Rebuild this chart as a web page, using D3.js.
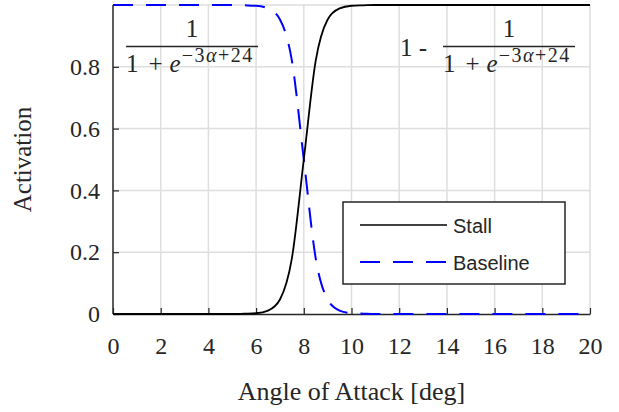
<!DOCTYPE html>
<html>
<head>
<meta charset="utf-8">
<script src="https://cdn.jsdelivr.net/npm/d3@7"></script>
<style>
  body { margin: 0; background: #fff; }
  svg { display: block; }
  text { fill: #262626; }
</style>
</head>
<body>
<svg width="619" height="412"></svg>
<script>
// values
const alpha = [0, 2, 4, 5, 5.5, 6, 6.5, 7, 7.5, 8, 8.5, 9, 9.5, 10, 10.5, 11, 12, 14, 16, 18, 20];
const stall = [0, 0, 0, 0, 0.0011, 0.0025, 0.011, 0.047, 0.18, 0.5, 0.82, 0.953, 0.989, 0.9975, 0.9989, 1, 1, 1, 1, 1, 1];
const baseline = [1, 1, 1, 1, 0.9989, 0.9975, 0.989, 0.953, 0.82, 0.5, 0.18, 0.047, 0.011, 0.0025, 0.0011, 0, 0, 0, 0, 0, 0];
const xTicks = [0, 2, 4, 6, 8, 10, 12, 14, 16, 18, 20];
const yTicks = [0, 0.2, 0.4, 0.6, 0.8];
const yGrid = [0.2, 0.4, 0.6, 0.8, 1];
const seriesNames = ["Stall", "Baseline"];

const svg = d3.select("svg");
const serif = "'Liberation Serif', 'DejaVu Serif', serif";
const sans = "'Liberation Sans', Arial, sans-serif";

const x = d3.scaleLinear().domain([0, 20]).range([113, 590]);
const y = d3.scaleLinear().domain([0, 1]).range([314, 5]);

// grid
svg.append("g").selectAll("line")
  .data(xTicks.slice(1))
  .enter().append("line")
  .attr("x1", d => x(d)).attr("x2", d => x(d))
  .attr("y1", y(0)).attr("y2", y(1))
  .attr("stroke", "#dedede").attr("stroke-width", 1.5);

svg.append("g").selectAll("line")
  .data(yGrid)
  .enter().append("line")
  .attr("x1", x(0)).attr("x2", x(20))
  .attr("y1", d => y(d)).attr("y2", d => y(d))
  .attr("stroke", "#dedede").attr("stroke-width", 1.5);

// axes
const xAxis = d3.axisBottom(x).tickValues(xTicks).tickSizeInner(-6).tickSizeOuter(0).tickPadding(23);
const yAxis = d3.axisLeft(y).tickValues(yTicks).tickSizeInner(-6).tickSizeOuter(0).tickPadding(13)
  .tickFormat(d => d === 0 ? "0" : d3.format(".1f")(d));

const gx = svg.append("g").attr("transform", `translate(0,${y(0)})`).call(xAxis);
const gy = svg.append("g").attr("transform", `translate(${x(0)},0)`).call(yAxis);

[gx, gy].forEach(g => {
  g.select(".domain").attr("stroke", "#262626").attr("stroke-width", 1.5);
  g.selectAll(".tick line").attr("stroke", "#262626").attr("stroke-width", 1.2);
  g.selectAll(".tick text").attr("font-family", serif).attr("font-size", 24).attr("fill", "#262626");
});
gy.select(".domain").attr("d", `M0,${y(0)}V${y(1)}`);

// curves
const line = d3.line()
  .x((d, i) => x(alpha[i]))
  .y(d => y(d))
  .curve(d3.curveMonotoneX);

svg.append("path")
  .attr("d", line(baseline))
  .attr("fill", "none")
  .attr("stroke", "#0000ff")
  .attr("stroke-width", 2)
  .attr("stroke-dasharray", "20,13");

svg.append("path")
  .attr("d", line(stall))
  .attr("fill", "none")
  .attr("stroke", "#000")
  .attr("stroke-width", 1.8);

// axis labels
svg.append("text")
  .attr("x", x(10)).attr("y", 400)
  .attr("text-anchor", "middle")
  .attr("font-family", serif).attr("font-size", 26)
  .text("Angle of Attack [deg]");

svg.append("text")
  .attr("transform", `translate(31,${y(0.5)}) rotate(-90)`)
  .attr("text-anchor", "middle")
  .attr("font-family", serif).attr("font-size", 25)
  .text("Activation");

// equations
function fraction(cx) {
  const g = svg.append("g").attr("font-family", serif).attr("fill", "#262626");
  g.append("text").attr("x", cx).attr("y", 37).attr("text-anchor", "middle")
    .attr("font-size", 25).text("1");
  g.append("line").attr("x1", cx - 66).attr("x2", cx + 66)
    .attr("y1", 46.5).attr("y2", 46.5)
    .attr("stroke", "#262626").attr("stroke-width", 1.3);
  const t = g.append("text").attr("x", cx - 66).attr("y", 72)
    .attr("font-size", 25);
  t.append("tspan").text("1");
  t.append("tspan").attr("dx", 10).text("+");
  t.append("tspan").attr("dx", 7).attr("font-style", "italic").text("e");
  t.append("tspan").attr("font-size", 20).attr("letter-spacing", 1.5).attr("dy", -10).attr("dx", 1).text("\u22123");
  t.append("tspan").attr("font-size", 20).attr("letter-spacing", 1.5).attr("font-style", "italic").text("\u03b1");
  t.append("tspan").attr("font-size", 20).attr("letter-spacing", 1.5).text("+24");
  return g;
}
fraction(192);
fraction(509);
svg.append("text").attr("x", 400).attr("y", 56)
  .attr("font-family", serif).attr("font-size", 25).text("1 -");

// legend
const legend = svg.append("g").attr("transform", "translate(343,202)");
legend.append("rect")
  .attr("width", 222).attr("height", 82)
  .attr("fill", "#fff").attr("stroke", "#262626").attr("stroke-width", 1.5);

const items = legend.selectAll("g.item")
  .data(seriesNames)
  .enter().append("g")
  .attr("transform", (d, i) => `translate(0,${23 + i * 37})`);

items.append("line")
  .attr("x1", 17).attr("x2", 104)
  .attr("stroke", (d, i) => i ? "#0000ff" : "#000")
  .attr("stroke-width", (d, i) => i ? 2 : 1.6)
  .attr("stroke-dasharray", (d, i) => i ? "20,13" : null);

items.append("text")
  .attr("x", 110).attr("y", 8)
  .attr("font-family", sans).attr("font-size", 20)
  .attr("fill", "#000")
  .text(d => d);
</script>
</body>
</html>
